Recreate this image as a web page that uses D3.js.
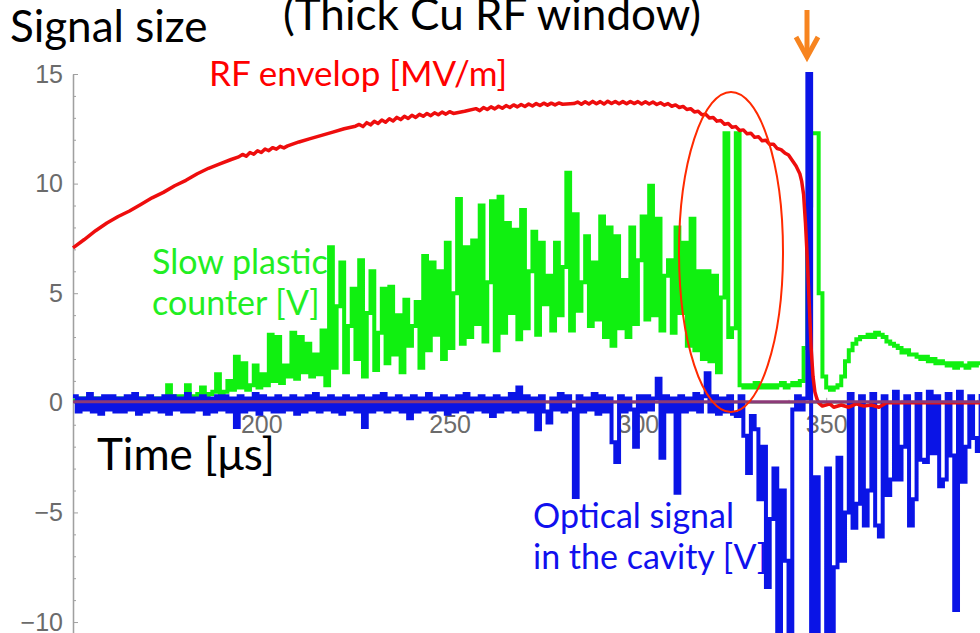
<!DOCTYPE html>
<html>
<head>
<meta charset="utf-8">
<script src="https://cdn.jsdelivr.net/npm/d3@7"></script>
<style>
  body { margin: 0; background: #fff; }
  svg { display: block; }
  .tick text { font-family: "Liberation Sans", Arial, sans-serif; font-size: 25px; fill: #6b6b6b; }
  .note { font-family: Lato, "Open Sans", sans-serif; }
</style>
</head>
<body>
<svg id="canvas" width="980" height="633"></svg>
<script>
// grille de temps commune aux signaux vert et bleu (pas de 1 µs)
let tempsDebut = 150
let tempsFin = 391

// compteur plastique lent [V], un point par µs de 150 à 391
let compteurLent = [
  0.1,0.2,0.1,0.2,0.1,0.2,0.1,0.2,0.1,0.2,0.1,0.2,0.1,0.2,0.1,0.2,0.1,0.2,0.1,0.2,0.1,0.2,0.1,0.2,
  0.2,0.8,0.2,0.3,0.2,0.3,0.8,0.3,0.2,0.4,0.7,0.3,0.4,0.5,1.3,0.4,0.5,1.0,
  0.6,2.1,0.7,1.8,0.6,0.8,1.7,0.7,1.3,0.8,3.1,1.0,3.0,0.9,1.7,1.2,3.2,1.1,3.0,1.4,2.7,1.2,2.2,1.3,3.3,
  0.8,7.1,1.6,4.4,6.4,1.4,3.5,5.2,2.0,6.5,1.2,4.1,6.0,1.5,3.2,5.2,1.8,5.3,2.2,4.0,1.4,4.7,2.6,3.5,4.6,1.6,6.7,2.4,6.4,3.1,6.0,2.0,7.3,2.5,
  5.0,9.3,2.7,7.1,3.0,7.4,3.6,9.0,2.8,5.5,9.2,2.4,9.4,3.2,8.2,4.1,7.9,2.9,8.8,3.4,6.0,7.8,3.1,7.3,4.5,5.8,3.3,7.3,4.0,6.2,
  10.5,3.3,8.6,4.2,5.5,7.6,3.5,6.4,3.8,8.5,3.0,8.0,2.6,7.6,3.4,5.6,3.0,8.0,3.6,6.5,
  8.5,3.8,9.9,4.0,8.4,3.3,5.8,6.5,3.2,8.0,4.1,7.3,2.6,8.4,2.4,6.0,2.0,6.0,1.9,5.8,1.4,4.8,12.3,3.0,3.4,12.3,
  0.8,0.7,0.8,0.7,0.9,0.7,0.8,0.7,0.8,0.7,0.8,0.9,0.7,0.8,0.9,0.8,
  1.0,2.5,9.0,12.3,12.3,5.0,1.2,0.7,0.6,0.7,0.8,
  1.2,1.9,2.4,2.7,2.9,3.0,3.0,3.1,3.0,3.2,3.1,3.0,2.8,2.7,2.6,2.5,2.3,2.4,2.2,2.2,2.1,2.0,2.1,1.9,2.0,1.8,1.9,1.8,1.7,1.8,1.6,1.8,1.7,1.6,1.8,1.7,1.8,1.8
]

// signal optique dans la cavité [V], un point par µs de 150 à 391
let signalOptique = [
  0.3,-0.4,0.2,-0.3,0.4,-0.4,0.2,-0.5,0.3,-0.3,0.3,-0.4,0.2,-0.4,0.3,-0.3,0.4,-0.5,0.2,-0.4,0.3,-0.3,0.2,-0.4,0.3,-0.5,0.3,-0.3,0.2,-0.4,0.4,-0.4,0.2,-0.3,0.3,-0.5,0.2,-0.4,0.3,-0.3,0.3,-0.4,0.2,
  -1.1,
  0.3,-0.4,0.2,-0.3,0.4,-0.5,0.3,-0.3,0.2,-0.4,0.3,-0.4,0.2,-0.3,0.3,-0.5,0.2,-0.4,0.3,-0.3,0.4,-0.4,0.2,-0.3,0.3,-0.4,0.2,-0.5,0.3,-0.3,0.2,-0.4,0.3,
  -1.1,
  0.2,-0.4,0.3,-0.3,0.4,-0.4,0.2,-0.3,0.3,-0.4,0.2,
  -0.7,
  0.3,-0.4,0.2,-0.3,0.4,-0.4,0.2,-0.3,0.3,-0.5,0.2,-0.4,0.3,-0.3,0.4,-0.4,0.2,-0.3,0.3,-0.4,0.2,
  -0.6,
  0.3,-0.4,0.2,-0.3,0.4,-0.4,
  0.7,
  -0.3,0.3,-0.4,0.2,
  -1.2,
  0.3,-0.4,
  -0.9,
  0.2,-0.3,0.4,-0.4,0.3,-0.3,
  -4.3,
  0.3,-0.4,0.2,-0.3,0.4,-0.5,0.3,-0.4,0.2,
  -1.8,-2.7,
  0.3,-0.4,0.2,-0.3,
  -2.0,
  0.3,-0.4,0.3,-0.3,0.2,
  1.1,-2.5,
  0.3,-0.4,0.2,
  -4.1,
  0.3,-0.4,0.2,-0.3,0.4,-0.4,0.3,
  1.35,
  -0.4,0.3,-0.5,0.2,-0.4,0.3,-0.5,
  -0.6,0.3,-1.5,-3.2,-0.6,-1.2,-4.4,-2.0,-8.4,-5.3,-3.0,-11,-4.0,-7.2,-11,-0.3,0.3,-0.3,0.2,
  15,
  -11,-3.4,-11,-11,-3.0,-11,-7.5,-2.5,-7.2,-5.0,0.4,-5.7,-4.6,0.3,-5.6,-4.0,0.4,-5.6,-6.1,0.3,-4.2,-3.5,0.5,-3.5,-2.0,0.3,
  -5.6,-4.4,0.4,-2.6,-2.7,0.5,-2.3,0.3,-3.8,-3.5,0.4,-2.4,-9.45,0.5,-3.6,-2.0,0.3,-1.6,-2.2,0.4
]

// enveloppe RF [MV/m] : paires [temps µs, valeur]
let enveloppeRF = [
  [150,7.07],[153,7.45],[156,7.85],[159,8.2],[162,8.5],[165,8.75],[168,9.05],[171,9.35],[174,9.6],[177,9.9],
  [180,10.15],[183,10.45],[186,10.7],[189,10.9],[192,11.1],[194,11.22],
  [195,11.33],[196,11.25],[197,11.42],[198,11.34],[199,11.5],[200,11.42],[201,11.58],[202,11.5],[203,11.64],[204,11.57],[205,11.7],[206,11.63],[207,11.72],
  [210,11.9],[213,12.05],[216,12.2],[219,12.35],[222,12.5],[225,12.62],
  [226,12.7],[227,12.6],[228,12.78],[229,12.68],[230,12.84],[231,12.74],[232,12.9],[233,12.8],[234,12.96],[235,12.86],
  [236,13.02],[237,12.92],[238,13.07],[239,12.97],[240,13.12],[241,13.02],[242,13.16],[243,13.07],[244,13.2],[245,13.1],
  [246,13.23],[247,13.14],[248,13.26],[249,13.17],[250,13.28],[251,13.2],[254,13.3],
  [257,13.42],[258,13.33],[259,13.47],[260,13.38],[261,13.5],[262,13.41],[263,13.53],[264,13.44],[265,13.56],[266,13.47],
  [267,13.59],[268,13.5],[269,13.61],[270,13.52],[271,13.63],[272,13.54],[273,13.65],[274,13.56],[275,13.67],[276,13.58],
  [277,13.67],[278,13.59],[279,13.68],[280,13.62],
  [283,13.65],[284,13.72],[285,13.62],[286,13.73],[287,13.63],[288,13.75],[289,13.64],[290,13.74],[291,13.63],[292,13.76],
  [293,13.65],[294,13.75],[295,13.64],[296,13.74],[297,13.64],[298,13.75],[299,13.65],[300,13.74],[301,13.63],[302,13.73],
  [303,13.63],[304,13.72],[305,13.61],[306,13.69],[307,13.58],[308,13.65],[309,13.53],[310,13.59],[311,13.47],[312,13.52],
  [313,13.38],[314,13.42],[315,13.27],[316,13.3],[317,13.14],[318,13.16],[319,12.99],[320,13.02],[321,12.85],[322,12.88],
  [323,12.71],[324,12.74],[325,12.57],[326,12.6],[327,12.42],[328,12.45],[329,12.27],[330,12.3],[331,12.11],[332,12.14],
  [333,11.95],[334,11.98],[335,11.79],[336,11.8],[337,11.6],[338,11.55],[339,11.4],[340,11.3],[341,11.05],[342,10.8],
  [343,10.45],[343.5,10.1],[344,9.5],[344.5,8.2],[345,6.5],[345.5,4.5],[346,2.5],[346.5,1.2],[347,0.5],[347.5,0.2],[348,0.0],
  [349,-0.15],[351,-0.05],[352,-0.2],[354,-0.1],[356,-0.2],[358,-0.05],[360,-0.15],[362,-0.1],[364,-0.2],[366,0.0],[391,0.0]
]

// ligne violette au niveau zéro
let ligneZero = [[150,0.05],[391,0.05]]

// graduations
let ticksX = [200,250,300,350]
let ticksY = [-10,-5,0,5,10,15]

let canvas = d3.select('#canvas')

let x = d3.scaleLinear().domain([tempsDebut, tempsFin]).range([73, 980.6])
let y = d3.scaleLinear().domain([-10.5, 15]).range([633, 74])

let temps = d3.range(tempsDebut, tempsFin + 1)

// axes (dessinés sous les courbes)
let axeY = canvas.append('g').attr('transform', `translate(${x(tempsDebut)},0)`)
axeY.call(d3.axisLeft(y).tickValues(d3.range(-10, 16, 1).filter(v => v % 5 !== 0)).tickSize(-3).tickSizeOuter(0).tickFormat(''))
axeY.append('g').call(d3.axisLeft(y).tickValues(ticksY).tickSize(-5).tickSizeOuter(0).tickPadding(10))

let axeX = canvas.append('g').attr('transform', `translate(0,${y(0)})`)
axeX.call(d3.axisBottom(x).tickValues(d3.range(160, 391, 10).filter(v => v % 50 !== 0)).tickSize(-3).tickSizeOuter(0).tickFormat(''))
axeX.append('g').call(d3.axisBottom(x).tickValues(ticksX).tickSize(-5).tickSizeOuter(0).tickPadding(12))

canvas.selectAll('.domain').attr('stroke', '#a0a0a0').attr('stroke-width', 1.3)
canvas.selectAll('.tick line').attr('stroke', '#a0a0a0')

let ligneMarches = d3.line()
    .x(d => x(d[0]))
    .y(d => y(d[1]))
    .curve(d3.curveStepAfter)

let ligneLisse = d3.line()
    .x(d => x(d[0]))
    .y(d => y(d[1]))

canvas.append('path')
      .datum(temps.map((t, i) => [t, compteurLent[i]]))
      .attr('d', ligneMarches)
      .attr('fill', 'none')
      .attr('stroke', '#10f010')
      .attr('stroke-width', 4)

canvas.append('path')
      .datum(temps.map((t, i) => [t, signalOptique[i]]))
      .attr('d', ligneMarches)
      .attr('fill', 'none')
      .attr('stroke', '#0a14e6')
      .attr('stroke-width', 4)

canvas.append('path')
      .datum(enveloppeRF)
      .attr('d', ligneLisse)
      .attr('fill', 'none')
      .attr('stroke', '#ee0d0d')
      .attr('stroke-width', 3.5)
      .attr('stroke-linejoin', 'round')

canvas.append('path')
      .datum(ligneZero)
      .attr('d', ligneLisse)
      .attr('stroke', '#8c3a78')
      .attr('stroke-width', 3)

// textes
let textes = [
  {t: 'Signal size', x: 10, y: 42, c: '#000', s: 44},
  {t: '(Thick Cu RF window)', x: 283, y: 30, c: '#000', s: 44},
  {t: 'RF envelop [MV/m]', x: 209, y: 86, c: '#ff0000', s: 35},
  {t: 'Slow plastic', x: 152, y: 274, c: '#22ee22', s: 34},
  {t: 'counter [V]', x: 152, y: 315, c: '#22ee22', s: 34},
  {t: 'Time [μs]', x: 97, y: 470, c: '#000', s: 44},
  {t: 'Optical signal', x: 533, y: 528, c: '#1010ee', s: 34},
  {t: 'in the cavity [V]', x: 533, y: 569, c: '#1010ee', s: 34}
]
canvas.selectAll('text.note')
      .data(textes)
      .enter()
      .append('text')
      .attr('class', 'note')
      .attr('x', d => d.x)
      .attr('y', d => d.y)
      .attr('fill', d => d.c)
      .attr('font-size', d => d.s)
      .text(d => d.t)

// ellipse rouge autour des deux pics
canvas.append('ellipse')
      .attr('cx', 731).attr('cy', 252).attr('rx', 52).attr('ry', 160)
      .attr('fill', 'none').attr('stroke', '#ff2a00').attr('stroke-width', 2)

// flèche orange
let fleche = canvas.append('g').attr('stroke', '#f7841f').attr('stroke-width', 5).attr('fill', 'none')
fleche.append('line').attr('x1', 807).attr('y1', 10).attr('x2', 807).attr('y2', 55)
fleche.append('path').attr('d', 'M796,37 L807,57 L818,37').attr('stroke-linejoin', 'miter')
</script>
</body>
</html>
